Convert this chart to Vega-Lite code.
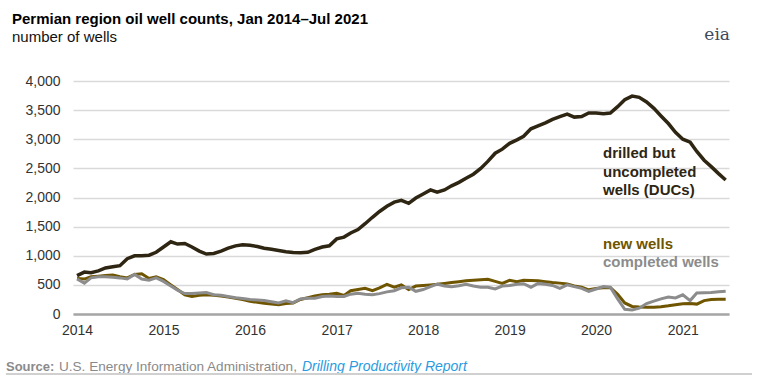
{
  "$schema": "https://vega.github.io/schema/vega-lite/v6.json",
  "width": 656,
  "height": 233,
  "autosize": {"type": "none"},
  "padding": {"left": 73, "top": 81, "right": 29, "bottom": 69},
  "background": "white",
  "config": {
    "view": {"stroke": null},
    "font": "Liberation Sans",
    "axisY": {
      "format": ",d",
      "domain": false,
      "ticks": false,
      "gridColor": "#d9d9d9",
      "gridWidth": 1.5,
      "labelFontSize": 14,
      "labelColor": "#333333",
      "labelPadding": 13,
      "labelFont": "Liberation Sans",
      "labelOverlap": false
    },
    "axisX": {
      "grid": false,
      "ticks": false,
      "domainColor": "#a6a6a6",
      "domainWidth": 2.5,
      "labelFontSize": 14,
      "labelColor": "#333333",
      "labelPadding": 9,
      "labelFont": "Liberation Sans",
      "format": "%Y"
    }
  },
  "title": {
    "text": "Permian region oil well counts, Jan 2014–Jul 2021",
    "subtitle": "number of wells",
    "anchor": "start",
    "frame": "group",
    "dx": -61,
    "offset": -19,
    "font": "Liberation Sans",
    "fontSize": 15,
    "fontWeight": "bold",
    "color": "#000000",
    "subtitleFont": "Liberation Sans",
    "subtitleFontSize": 15,
    "subtitleColor": "#111111",
    "subtitlePadding": 3
  },
  "datasets": {
    "wells": [
      {"date": "2014/01/01", "duc": 660, "new": 610, "completed": 600},
      {"date": "2014/02/01", "duc": 720, "new": 600, "completed": 530},
      {"date": "2014/03/01", "duc": 710, "new": 640, "completed": 620},
      {"date": "2014/04/01", "duc": 740, "new": 650, "completed": 640},
      {"date": "2014/05/01", "duc": 790, "new": 660, "completed": 640},
      {"date": "2014/06/01", "duc": 810, "new": 670, "completed": 630},
      {"date": "2014/07/01", "duc": 830, "new": 640, "completed": 620},
      {"date": "2014/08/01", "duc": 950, "new": 620, "completed": 600},
      {"date": "2014/09/01", "duc": 1000, "new": 680, "completed": 680},
      {"date": "2014/10/01", "duc": 1000, "new": 690, "completed": 600},
      {"date": "2014/11/01", "duc": 1010, "new": 610, "completed": 580},
      {"date": "2014/12/01", "duc": 1060, "new": 640, "completed": 620},
      {"date": "2015/01/01", "duc": 1150, "new": 590, "completed": 560},
      {"date": "2015/02/01", "duc": 1240, "new": 500, "completed": 480},
      {"date": "2015/03/01", "duc": 1200, "new": 420, "completed": 410},
      {"date": "2015/04/01", "duc": 1210, "new": 330, "completed": 350},
      {"date": "2015/05/01", "duc": 1150, "new": 300, "completed": 350},
      {"date": "2015/06/01", "duc": 1080, "new": 320, "completed": 360},
      {"date": "2015/07/01", "duc": 1030, "new": 330, "completed": 370},
      {"date": "2015/08/01", "duc": 1040, "new": 320, "completed": 330},
      {"date": "2015/09/01", "duc": 1080, "new": 310, "completed": 320},
      {"date": "2015/10/01", "duc": 1130, "new": 290, "completed": 300},
      {"date": "2015/11/01", "duc": 1170, "new": 270, "completed": 280},
      {"date": "2015/12/01", "duc": 1190, "new": 250, "completed": 265},
      {"date": "2016/01/01", "duc": 1180, "new": 220, "completed": 250},
      {"date": "2016/02/01", "duc": 1160, "new": 200, "completed": 240},
      {"date": "2016/03/01", "duc": 1130, "new": 185, "completed": 230},
      {"date": "2016/04/01", "duc": 1110, "new": 170, "completed": 210},
      {"date": "2016/05/01", "duc": 1090, "new": 160, "completed": 190},
      {"date": "2016/06/01", "duc": 1070, "new": 180, "completed": 225},
      {"date": "2016/07/01", "duc": 1055, "new": 190, "completed": 195},
      {"date": "2016/08/01", "duc": 1050, "new": 250, "completed": 260},
      {"date": "2016/09/01", "duc": 1060, "new": 280, "completed": 270},
      {"date": "2016/10/01", "duc": 1110, "new": 310, "completed": 270},
      {"date": "2016/11/01", "duc": 1150, "new": 330, "completed": 300},
      {"date": "2016/12/01", "duc": 1170, "new": 340, "completed": 310},
      {"date": "2017/01/01", "duc": 1290, "new": 355, "completed": 300},
      {"date": "2017/02/01", "duc": 1320, "new": 320, "completed": 300},
      {"date": "2017/03/01", "duc": 1390, "new": 400, "completed": 340},
      {"date": "2017/04/01", "duc": 1450, "new": 420, "completed": 355},
      {"date": "2017/05/01", "duc": 1550, "new": 440, "completed": 340},
      {"date": "2017/06/01", "duc": 1660, "new": 400, "completed": 330},
      {"date": "2017/07/01", "duc": 1760, "new": 450, "completed": 350},
      {"date": "2017/08/01", "duc": 1850, "new": 510, "completed": 380},
      {"date": "2017/09/01", "duc": 1920, "new": 460, "completed": 400},
      {"date": "2017/10/01", "duc": 1950, "new": 500, "completed": 450},
      {"date": "2017/11/01", "duc": 1900, "new": 420, "completed": 460},
      {"date": "2017/12/01", "duc": 1990, "new": 480, "completed": 390},
      {"date": "2018/01/01", "duc": 2060, "new": 490, "completed": 420},
      {"date": "2018/02/01", "duc": 2130, "new": 500, "completed": 470},
      {"date": "2018/03/01", "duc": 2090, "new": 510, "completed": 515},
      {"date": "2018/04/01", "duc": 2130, "new": 525, "completed": 480},
      {"date": "2018/05/01", "duc": 2200, "new": 540, "completed": 470},
      {"date": "2018/06/01", "duc": 2260, "new": 555, "completed": 485},
      {"date": "2018/07/01", "duc": 2330, "new": 570, "completed": 510},
      {"date": "2018/08/01", "duc": 2400, "new": 580, "completed": 480},
      {"date": "2018/09/01", "duc": 2500, "new": 590, "completed": 460},
      {"date": "2018/10/01", "duc": 2620, "new": 595, "completed": 460},
      {"date": "2018/11/01", "duc": 2760, "new": 560, "completed": 430},
      {"date": "2018/12/01", "duc": 2830, "new": 525, "completed": 480},
      {"date": "2019/01/01", "duc": 2930, "new": 580, "completed": 490},
      {"date": "2019/02/01", "duc": 2990, "new": 555, "completed": 510},
      {"date": "2019/03/01", "duc": 3050, "new": 580, "completed": 520},
      {"date": "2019/04/01", "duc": 3180, "new": 575, "completed": 460},
      {"date": "2019/05/01", "duc": 3230, "new": 570, "completed": 525},
      {"date": "2019/06/01", "duc": 3280, "new": 555, "completed": 510},
      {"date": "2019/07/01", "duc": 3340, "new": 540, "completed": 490},
      {"date": "2019/08/01", "duc": 3390, "new": 530, "completed": 440},
      {"date": "2019/09/01", "duc": 3430, "new": 515, "completed": 500},
      {"date": "2019/10/01", "duc": 3380, "new": 480, "completed": 470},
      {"date": "2019/11/01", "duc": 3390, "new": 460, "completed": 440},
      {"date": "2019/12/01", "duc": 3450, "new": 415, "completed": 390},
      {"date": "2020/01/01", "duc": 3450, "new": 440, "completed": 430},
      {"date": "2020/02/01", "duc": 3440, "new": 450, "completed": 470},
      {"date": "2020/03/01", "duc": 3450, "new": 455, "completed": 460},
      {"date": "2020/04/01", "duc": 3560, "new": 340, "completed": 260},
      {"date": "2020/05/01", "duc": 3680, "new": 190, "completed": 80},
      {"date": "2020/06/01", "duc": 3740, "new": 130, "completed": 70},
      {"date": "2020/07/01", "duc": 3720, "new": 120, "completed": 100},
      {"date": "2020/08/01", "duc": 3640, "new": 115, "completed": 180},
      {"date": "2020/09/01", "duc": 3530, "new": 115, "completed": 220},
      {"date": "2020/10/01", "duc": 3400, "new": 125, "completed": 260},
      {"date": "2020/11/01", "duc": 3270, "new": 140, "completed": 290},
      {"date": "2020/12/01", "duc": 3120, "new": 160, "completed": 275},
      {"date": "2021/01/01", "duc": 3000, "new": 175, "completed": 330},
      {"date": "2021/02/01", "duc": 2950, "new": 180, "completed": 230},
      {"date": "2021/03/01", "duc": 2790, "new": 170, "completed": 360},
      {"date": "2021/04/01", "duc": 2640, "new": 230, "completed": 365},
      {"date": "2021/05/01", "duc": 2530, "new": 250, "completed": 370},
      {"date": "2021/06/01", "duc": 2410, "new": 255, "completed": 380},
      {"date": "2021/07/01", "duc": 2300, "new": 255, "completed": 390}
    ]
  },
  "layer": [
    {
      "data": {"name": "wells"},
      "mark": {"type": "line", "color": "#6f5500", "strokeWidth": 3},
      "encoding": {
        "x": {
          "field": "date",
          "type": "temporal",
          "scale": {"domain": [{"year": 2013, "month": 12, "date": 15}, {"year": 2021, "month": 7, "date": 15}]},
          "axis": {"title": null, "format": "%Y", "values": [{"year": 2014, "month": 1, "date": 1}, {"year": 2015, "month": 1, "date": 1}, {"year": 2016, "month": 1, "date": 1}, {"year": 2017, "month": 1, "date": 1}, {"year": 2018, "month": 1, "date": 1}, {"year": 2019, "month": 1, "date": 1}, {"year": 2020, "month": 1, "date": 1}, {"year": 2021, "month": 1, "date": 1}]}
        },
        "y": {
          "field": "new",
          "type": "quantitative",
          "scale": {"domain": [0, 4000], "nice": false},
          "axis": {"title": null, "format": ",d", "values": [0, 500, 1000, 1500, 2000, 2500, 3000, 3500, 4000]}
        }
      }
    },
    {
      "data": {"name": "wells"},
      "mark": {"type": "line", "color": "#8c8c8c", "strokeWidth": 3},
      "encoding": {
        "x": {"field": "date", "type": "temporal", "axis": {"title": null, "format": "%Y", "values": [{"year": 2014, "month": 1, "date": 1}, {"year": 2015, "month": 1, "date": 1}, {"year": 2016, "month": 1, "date": 1}, {"year": 2017, "month": 1, "date": 1}, {"year": 2018, "month": 1, "date": 1}, {"year": 2019, "month": 1, "date": 1}, {"year": 2020, "month": 1, "date": 1}, {"year": 2021, "month": 1, "date": 1}]}},
        "y": {"field": "completed", "type": "quantitative", "axis": {"title": null, "format": ",d", "values": [0, 500, 1000, 1500, 2000, 2500, 3000, 3500, 4000]}}
      }
    },
    {
      "data": {"name": "wells"},
      "mark": {"type": "line", "color": "#2e2613", "strokeWidth": 3.5},
      "encoding": {
        "x": {"field": "date", "type": "temporal", "axis": {"title": null, "format": "%Y", "values": [{"year": 2014, "month": 1, "date": 1}, {"year": 2015, "month": 1, "date": 1}, {"year": 2016, "month": 1, "date": 1}, {"year": 2017, "month": 1, "date": 1}, {"year": 2018, "month": 1, "date": 1}, {"year": 2019, "month": 1, "date": 1}, {"year": 2020, "month": 1, "date": 1}, {"year": 2021, "month": 1, "date": 1}]}},
        "y": {"field": "duc", "type": "quantitative", "axis": {"title": null, "format": ",d", "values": [0, 500, 1000, 1500, 2000, 2500, 3000, 3500, 4000]}}
      }
    },
    {
      "data": {"values": [{}]},
      "mark": {"type": "text", "text": "drilled but", "align": "left", "baseline": "alphabetic", "fontSize": 15, "fontWeight": "bold", "color": "#2e2613"},
      "encoding": {
        "x": {"datum": {"year": 2020, "month": 1, "date": 30}, "type": "temporal", "axis": {"title": null, "format": "%Y", "values": [{"year": 2014, "month": 1, "date": 1}, {"year": 2015, "month": 1, "date": 1}, {"year": 2016, "month": 1, "date": 1}, {"year": 2017, "month": 1, "date": 1}, {"year": 2018, "month": 1, "date": 1}, {"year": 2019, "month": 1, "date": 1}, {"year": 2020, "month": 1, "date": 1}, {"year": 2021, "month": 1, "date": 1}]}},
        "y": {"datum": 2678, "type": "quantitative", "axis": {"title": null, "format": ",d", "values": [0, 500, 1000, 1500, 2000, 2500, 3000, 3500, 4000]}}
      }
    },
    {
      "data": {"values": [{}]},
      "mark": {"type": "text", "text": "uncompleted", "align": "left", "baseline": "alphabetic", "fontSize": 15, "fontWeight": "bold", "color": "#2e2613"},
      "encoding": {
        "x": {"datum": {"year": 2020, "month": 1, "date": 30}, "type": "temporal", "axis": {"title": null, "format": "%Y", "values": [{"year": 2014, "month": 1, "date": 1}, {"year": 2015, "month": 1, "date": 1}, {"year": 2016, "month": 1, "date": 1}, {"year": 2017, "month": 1, "date": 1}, {"year": 2018, "month": 1, "date": 1}, {"year": 2019, "month": 1, "date": 1}, {"year": 2020, "month": 1, "date": 1}, {"year": 2021, "month": 1, "date": 1}]}},
        "y": {"datum": 2357, "type": "quantitative", "axis": {"title": null, "format": ",d", "values": [0, 500, 1000, 1500, 2000, 2500, 3000, 3500, 4000]}}
      }
    },
    {
      "data": {"values": [{}]},
      "mark": {"type": "text", "text": "wells (DUCs)", "align": "left", "baseline": "alphabetic", "fontSize": 15, "fontWeight": "bold", "color": "#2e2613"},
      "encoding": {
        "x": {"datum": {"year": 2020, "month": 1, "date": 30}, "type": "temporal", "axis": {"title": null, "format": "%Y", "values": [{"year": 2014, "month": 1, "date": 1}, {"year": 2015, "month": 1, "date": 1}, {"year": 2016, "month": 1, "date": 1}, {"year": 2017, "month": 1, "date": 1}, {"year": 2018, "month": 1, "date": 1}, {"year": 2019, "month": 1, "date": 1}, {"year": 2020, "month": 1, "date": 1}, {"year": 2021, "month": 1, "date": 1}]}},
        "y": {"datum": 2043, "type": "quantitative", "axis": {"title": null, "format": ",d", "values": [0, 500, 1000, 1500, 2000, 2500, 3000, 3500, 4000]}}
      }
    },
    {
      "data": {"values": [{}]},
      "mark": {"type": "text", "text": "new wells", "align": "left", "baseline": "alphabetic", "fontSize": 15, "fontWeight": "bold", "color": "#6f5500"},
      "encoding": {
        "x": {"datum": {"year": 2020, "month": 1, "date": 30}, "type": "temporal", "axis": {"title": null, "format": "%Y", "values": [{"year": 2014, "month": 1, "date": 1}, {"year": 2015, "month": 1, "date": 1}, {"year": 2016, "month": 1, "date": 1}, {"year": 2017, "month": 1, "date": 1}, {"year": 2018, "month": 1, "date": 1}, {"year": 2019, "month": 1, "date": 1}, {"year": 2020, "month": 1, "date": 1}, {"year": 2021, "month": 1, "date": 1}]}},
        "y": {"datum": 1124, "type": "quantitative", "axis": {"title": null, "format": ",d", "values": [0, 500, 1000, 1500, 2000, 2500, 3000, 3500, 4000]}}
      }
    },
    {
      "data": {"values": [{}]},
      "mark": {"type": "text", "text": "completed wells", "align": "left", "baseline": "alphabetic", "fontSize": 15, "fontWeight": "bold", "color": "#8c8c8c"},
      "encoding": {
        "x": {"datum": {"year": 2020, "month": 1, "date": 30}, "type": "temporal", "axis": {"title": null, "format": "%Y", "values": [{"year": 2014, "month": 1, "date": 1}, {"year": 2015, "month": 1, "date": 1}, {"year": 2016, "month": 1, "date": 1}, {"year": 2017, "month": 1, "date": 1}, {"year": 2018, "month": 1, "date": 1}, {"year": 2019, "month": 1, "date": 1}, {"year": 2020, "month": 1, "date": 1}, {"year": 2021, "month": 1, "date": 1}]}},
        "y": {"datum": 812, "type": "quantitative", "axis": {"title": null, "format": ",d", "values": [0, 500, 1000, 1500, 2000, 2500, 3000, 3500, 4000]}}
      }
    },
    {
      "data": {"values": [{}]},
      "mark": {"type": "text", "text": "Source:", "align": "left", "baseline": "alphabetic", "fontSize": 13, "fontWeight": "bold", "color": "#8a8a8a"},
      "encoding": {
        "x": {"datum": {"year": 2013, "month": 3, "date": 7}, "type": "temporal", "axis": {"title": null, "format": "%Y", "values": [{"year": 2014, "month": 1, "date": 1}, {"year": 2015, "month": 1, "date": 1}, {"year": 2016, "month": 1, "date": 1}, {"year": 2017, "month": 1, "date": 1}, {"year": 2018, "month": 1, "date": 1}, {"year": 2019, "month": 1, "date": 1}, {"year": 2020, "month": 1, "date": 1}, {"year": 2021, "month": 1, "date": 1}]}},
        "y": {"datum": -979, "type": "quantitative", "axis": {"title": null, "format": ",d", "values": [0, 500, 1000, 1500, 2000, 2500, 3000, 3500, 4000]}}
      }
    },
    {
      "data": {"values": [{}]},
      "mark": {"type": "text", "text": "U.S. Energy Information Administration,", "align": "left", "baseline": "alphabetic", "fontSize": 13.6, "color": "#8a8a8a", "dx": 53},
      "encoding": {
        "x": {"datum": {"year": 2013, "month": 3, "date": 7}, "type": "temporal", "axis": {"title": null, "format": "%Y", "values": [{"year": 2014, "month": 1, "date": 1}, {"year": 2015, "month": 1, "date": 1}, {"year": 2016, "month": 1, "date": 1}, {"year": 2017, "month": 1, "date": 1}, {"year": 2018, "month": 1, "date": 1}, {"year": 2019, "month": 1, "date": 1}, {"year": 2020, "month": 1, "date": 1}, {"year": 2021, "month": 1, "date": 1}]}},
        "y": {"datum": -979, "type": "quantitative", "axis": {"title": null, "format": ",d", "values": [0, 500, 1000, 1500, 2000, 2500, 3000, 3500, 4000]}}
      }
    },
    {
      "data": {"values": [{}]},
      "mark": {"type": "text", "text": "Drilling Productivity Report", "align": "left", "baseline": "alphabetic", "fontSize": 14, "fontStyle": "italic", "color": "#2a9be0", "dx": 296},
      "encoding": {
        "x": {"datum": {"year": 2013, "month": 3, "date": 7}, "type": "temporal", "axis": {"title": null, "format": "%Y", "values": [{"year": 2014, "month": 1, "date": 1}, {"year": 2015, "month": 1, "date": 1}, {"year": 2016, "month": 1, "date": 1}, {"year": 2017, "month": 1, "date": 1}, {"year": 2018, "month": 1, "date": 1}, {"year": 2019, "month": 1, "date": 1}, {"year": 2020, "month": 1, "date": 1}, {"year": 2021, "month": 1, "date": 1}]}},
        "y": {"datum": -979, "type": "quantitative", "axis": {"title": null, "format": ",d", "values": [0, 500, 1000, 1500, 2000, 2500, 3000, 3500, 4000]}}
      }
    },
    {
      "data": {"values": [{}]},
      "mark": {"type": "rule", "color": "#d0d0d0", "strokeWidth": 2},
      "encoding": {
        "x": {"datum": {"year": 2013, "month": 3, "date": 7}, "type": "temporal", "axis": {"title": null, "format": "%Y", "values": [{"year": 2014, "month": 1, "date": 1}, {"year": 2015, "month": 1, "date": 1}, {"year": 2016, "month": 1, "date": 1}, {"year": 2017, "month": 1, "date": 1}, {"year": 2018, "month": 1, "date": 1}, {"year": 2019, "month": 1, "date": 1}, {"year": 2020, "month": 1, "date": 1}, {"year": 2021, "month": 1, "date": 1}]}},
        "x2": {"datum": {"year": 2021, "month": 10, "date": 20}},
        "y": {"datum": -1030, "type": "quantitative", "axis": {"title": null, "format": ",d", "values": [0, 500, 1000, 1500, 2000, 2500, 3000, 3500, 4000]}}
      }
    },
    {
      "data": {"values": [{}]},
      "mark": {"type": "text", "text": "eia", "align": "left", "baseline": "alphabetic", "fontSize": 17, "font": "DejaVu Serif", "color": "#3d4b5c"},
      "encoding": {
        "x": {"datum": {"year": 2021, "month": 4, "date": 2}, "type": "temporal", "axis": {"title": null, "format": "%Y", "values": [{"year": 2014, "month": 1, "date": 1}, {"year": 2015, "month": 1, "date": 1}, {"year": 2016, "month": 1, "date": 1}, {"year": 2017, "month": 1, "date": 1}, {"year": 2018, "month": 1, "date": 1}, {"year": 2019, "month": 1, "date": 1}, {"year": 2020, "month": 1, "date": 1}, {"year": 2021, "month": 1, "date": 1}]}},
        "y": {"datum": 4704, "type": "quantitative", "axis": {"title": null, "format": ",d", "values": [0, 500, 1000, 1500, 2000, 2500, 3000, 3500, 4000]}}
      }
    }
  ]
}
